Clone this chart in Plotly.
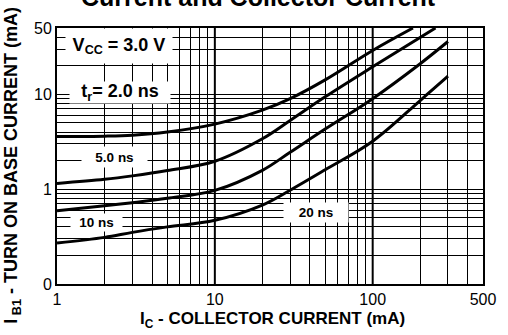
import math
import plotly.graph_objects as go

# Collector current (mA) and turn-on base current (mA) for each rise time
ic_2ns = [1, 2, 3, 5, 10, 20, 30, 50, 100, 180]
ib_2ns = [3.6, 3.62, 3.7, 4.0, 4.85, 6.8, 9.0, 14.2, 29, 50]

ic_5ns = [1, 2, 3, 5, 10, 20, 30, 50, 100, 250]
ib_5ns = [1.15, 1.27, 1.38, 1.57, 1.97, 3.4, 5.3, 9.4, 19.5, 50]

ic_10ns = [1, 2, 3, 5, 10, 20, 30, 50, 100, 200, 300]
ib_10ns = [0.59, 0.67, 0.72, 0.80, 0.97, 1.58, 2.45, 4.3, 9.0, 21, 36]

ic_20ns = [1, 2, 3, 5, 10, 20, 30, 50, 100, 200, 300]
ib_20ns = [0.27, 0.31, 0.35, 0.40, 0.47, 0.68, 0.975, 1.6, 3.2, 8.6, 15.5]

# Log grid lines and their labels
x_grid = [1, 2, 3, 4, 5, 6, 7, 8, 9,
          10, 20, 30, 40, 50, 60, 70, 80, 90,
          100, 200, 300, 400, 500]
x_text = ["1", "", "", "", "", "", "", "", "",
          "10", "", "", "", "", "", "", "", "",
          "100", "", "", "", "500"]
y_grid = [0.1, 0.2, 0.3, 0.4, 0.5, 0.6, 0.7, 0.8, 0.9,
          1, 2, 3, 4, 5, 6, 7, 8, 9,
          10, 20, 30, 40, 50]
y_text = ["0", "", "", "", "", "", "", "", "",
          "1", "", "", "", "", "", "", "", "",
          "10", "", "", "", "50"]

FONT = "Arial, Liberation Sans, sans-serif"

fig = go.Figure()
for xs, ys in [(ic_2ns, ib_2ns), (ic_5ns, ib_5ns), (ic_10ns, ib_10ns), (ic_20ns, ib_20ns)]:
    fig.add_trace(go.Scatter(
        x=xs, y=ys, mode="lines",
        line=dict(color="black", width=3, shape="spline", smoothing=1.0),
        showlegend=False, hoverinfo="skip",
    ))

axis_common = dict(
    type="log",
    showgrid=True, gridcolor="black", gridwidth=1,
    showline=True, linecolor="black", linewidth=2, mirror=True,
    ticks="", zeroline=False,
    tickfont=dict(family=FONT, size=16, color="black"),
)
fig.update_xaxes(range=[0, math.log10(500)], tickmode="array",
                 tickvals=x_grid, ticktext=x_text, **axis_common)
fig.update_yaxes(range=[-1, math.log10(50)], tickmode="array",
                 tickvals=y_grid, ticktext=y_text, **axis_common)

# Heavier decade lines
for xv in [10, 100]:
    fig.add_shape(type="line", xref="x", yref="paper", x0=xv, x1=xv, y0=0, y1=1,
                  line=dict(color="black", width=2), layer="below")


def label(text, xv, yv, size, w, h):
    fig.add_annotation(
        x=math.log10(xv), y=math.log10(yv), xref="x", yref="y",
        text=text, showarrow=False, bgcolor="white", width=w, height=h,
        borderpad=0,
        font=dict(family=FONT, size=size, color="black", weight="bold"),
    )


label("V<sub>CC</sub> = 3.0 V", 2.48, 32.6, 18, 106, 34)
label("t<sub>r</sub>= 2.0 ns", 2.5, 10.4, 18, 100, 21)
label("5.0 ns", 2.30, 2.18, 13.5, 65, 20)
label("10 ns", 1.78, 0.448, 13.5, 51, 17)
label("20 ns", 44, 0.571, 13.5, 64, 19)

# Title (second line) and axis titles
fig.add_annotation(
    x=0.472, y=1.0586, xref="paper", yref="paper", xanchor="center", yanchor="bottom",
    text="Current and Collector Current", showarrow=False,
    font=dict(family=FONT, size=25, color="black", weight="bold"),
)
fig.add_annotation(
    x=0.505, y=-0.141, xref="paper", yref="paper", xanchor="center", yanchor="middle",
    text="I<sub>C</sub> - COLLECTOR CURRENT (mA)", showarrow=False,
    font=dict(family=FONT, size=17, color="black", weight="bold"),
)
fig.add_annotation(
    x=-0.104, y=0.465, xref="paper", yref="paper", xanchor="center", yanchor="middle",
    text="I<sub> B1</sub> - TURN ON BASE CURRENT (mA)", showarrow=False, textangle=-90,
    font=dict(family=FONT, size=18, color="black", weight="bold"),
)

fig.update_layout(
    width=508, height=335,
    margin=dict(l=57, r=19, t=28, b=51),
    paper_bgcolor="white", plot_bgcolor="white",
)

fig.write_html("out.html")
